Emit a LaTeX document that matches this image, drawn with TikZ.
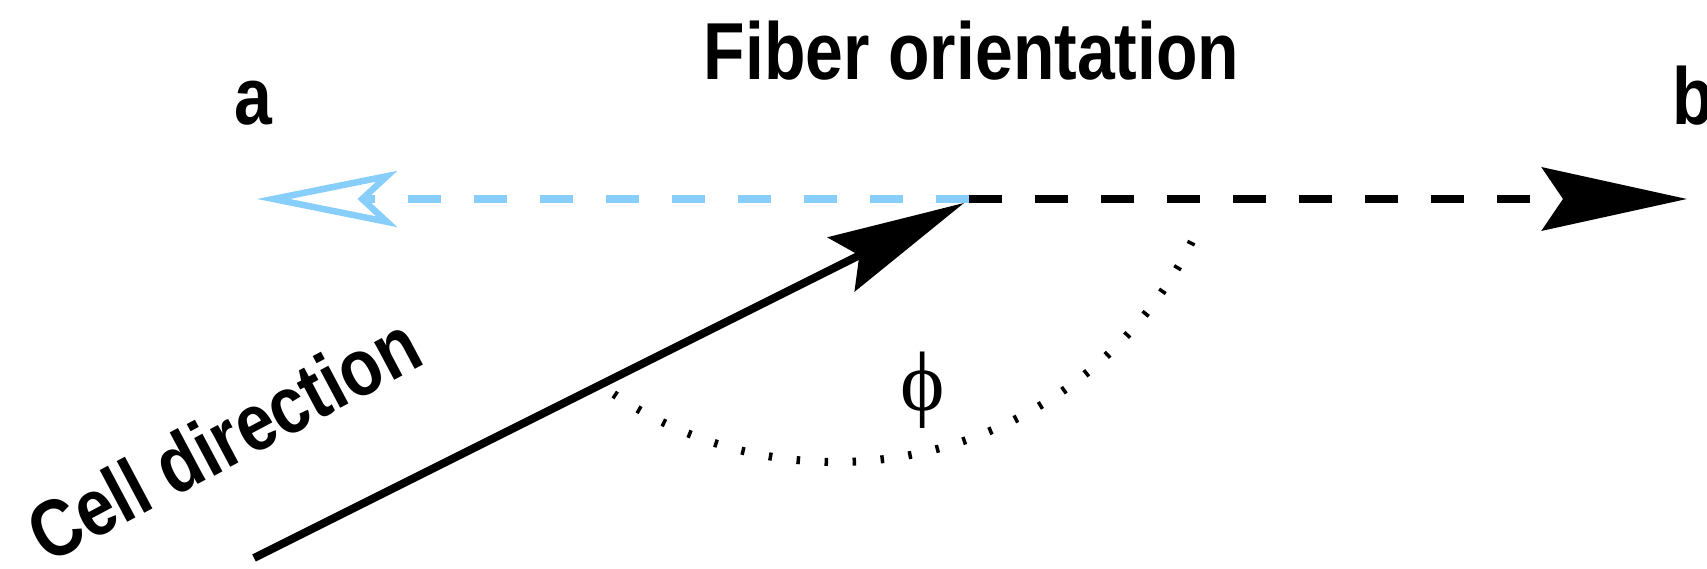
\documentclass[tikz,border=0pt]{standalone}
\usepackage{fontspec}
\usepackage{xcolor}
\usepackage{tikz}
\usetikzlibrary{positioning,arrows.meta}
\newfontfamily\labelfont{Liberation Sans}[FakeStretch=0.84]
\newfontfamily\anglefont{Liberation Serif}
\definecolor{fiberblue}{RGB}{135,206,250}
\tikzset{
  label-text/.style={font=\labelfont\bfseries\fontsize{23}{27}\selectfont,
    inner sep=0pt, anchor=base},
  angle-text/.style={font=\anglefont\fontsize{24}{28}\selectfont, inner sep=0pt},
  fiber-line/.style={line width=0.08cm, dash pattern=on 0.33cm off 0.33cm},
  fiber-arrow/.style={fiber-line, -{Stealth[length=1.45cm, width=0.63cm, inset=0.21cm]}},
  fiber-back/.style={fiber-line, draw=fiberblue,
    -{Stealth[open, length=1.4cm, width=0.56cm, inset=0.3cm, line width=0.065cm]}},
  cell-arrow/.style={line width=0.08cm, -{Stealth[length=1.37cm, width=0.6cm, inset=0.2cm]}},
  angle-arc/.style={line width=0.08cm, dash pattern=on 0.035cm off 0.2455cm}
}

\begin{document}
\begin{tikzpicture}
\useasboundingbox (0,0) rectangle (17.07,5.69);
% fiber axis
\coordinate (junction) at (9.69, 3.70);
\coordinate (tip-a) at (2.57, 3.70);
\coordinate (tip-b) at (16.87, 3.70);
\draw[fiber-back] (junction) -- (tip-a);
\draw[fiber-arrow] (junction) -- (tip-b);
% cell
\coordinate (cell-start) at (2.54, 0.11);
\coordinate (cell-tip) at (9.64, 3.66);
\draw[cell-arrow] (cell-start) -- (cell-tip);
% angle
\coordinate (arc-centre) at (8.36, 5.045);
\draw[angle-arc] (arc-centre) ++(236:3.975) arc[start angle=236, end angle=337, radius=3.975];
\node[angle-text] (phi) at (9.23, 1.79) {ϕ};
% labels
\node[label-text] (title) at (9.715, 4.89) {Fiber orientation};
\node[label-text] (end-a) at (2.535, 4.44) {a};
\node[label-text] (end-b) at (16.93, 4.44) {b};
\node[label-text, rotate=28] (cell-label) at (2.37, 1.05) {Cell direction};
\end{tikzpicture}
\end{document}
